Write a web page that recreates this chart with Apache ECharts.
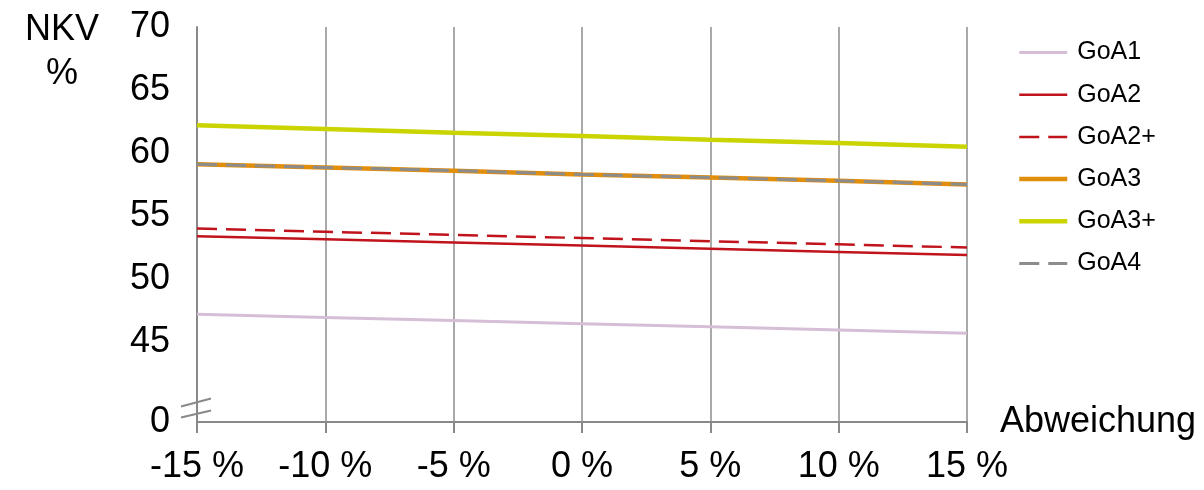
<!DOCTYPE html>
<html><head><meta charset="utf-8">
<script src="https://cdn.jsdelivr.net/npm/echarts@6/dist/echarts.min.js"></script>
<style>html,body{margin:0;padding:0;background:#fff}#c{width:1204px;height:490px}</style>
</head><body><div id="c"></div>
<script>
const categories = ['-15 %','-10 %','-5 %','0 %','5 %','10 %','15 %'];
const goa1  = [47.2, 46.95, 46.7, 46.45, 46.2, 45.95, 45.7];
const goa2  = [53.4, 53.15, 52.9, 52.65, 52.4, 52.15, 51.9];
const goa2p = [54.0, 53.75, 53.5, 53.25, 53.0, 52.75, 52.5];
const goa3  = [59.1, 58.85, 58.6, 58.3, 58.05, 57.8, 57.5];
const goa3p = [62.2, 61.9, 61.6, 61.35, 61.05, 60.8, 60.5];
const goa4  = [59.1, 58.85, 58.6, 58.3, 58.05, 57.8, 57.5];
const yBreakMin = 38.65;
const yTicks = [yBreakMin, 45, 50, 55, 60, 65, 70];

const font = 'Liberation Sans, Arial, sans-serif';
const chart = echarts.init(document.getElementById('c'), null, {renderer:'canvas'});
const styles = {
  'GoA1':  {color:'#d6bfd6', width:3,   type:'solid'},
  'GoA2':  {color:'#c0131b', width:2.5, type:'solid'},
  'GoA2+': {color:'#c0131b', width:2.5, type:[20,9]},
  'GoA3':  {color:'#e08e0b', width:4.5, type:'solid'},
  'GoA3+': {color:'#c9d400', width:4.5, type:'solid'},
  'GoA4':  {color:'#8c8c8c', width:3,   type:[20,9]}
};
function ser(name, data, z){
  const s = styles[name];
  return {name, type:'line', data, symbol:'none', z:z,
    lineStyle:{color:s.color, width:s.width, type:s.type}, itemStyle:{color:s.color}};
}
const legendNames = ['GoA1','GoA2','GoA2+','GoA3','GoA3+','GoA4'];
chart.setOption({
  animation:false,
  grid:{left:197, right:237, top:27, bottom:68},
  xAxis:{type:'category', data:categories, boundaryGap:false,
    name:'Abweichung', nameLocation:'end', nameGap:33,
    nameTextStyle:{fontFamily:font, fontSize:36, color:'#000', padding:[8,0,0,0]},
    axisLine:{lineStyle:{color:'#898989', width:2}},
    axisTick:{show:true, length:11, lineStyle:{color:'#898989', width:2}},
    axisLabel:{fontFamily:font, fontSize:36, color:'#000', margin:27},
    splitLine:{show:true, lineStyle:{color:'#8c8c8c', width:1.5}}},
  yAxis:{type:'value', min:yBreakMin, max:70,
    axisLine:{show:true, lineStyle:{color:'#898989', width:2}},
    axisTick:{show:false},
    splitLine:{show:false},
    axisLabel:{fontFamily:font, fontSize:36, color:'#000', margin:27,
      customValues:yTicks,
      formatter:v => v < 40 ? '0' : String(Math.round(v))}},
  legend:{orient:'vertical', left:1012, top:35, itemWidth:48, itemHeight:14, itemGap:17.2,
    itemStyle:{opacity:0},
    textStyle:{fontFamily:font, fontSize:25, color:'#000', lineHeight:24, padding:[0,0,0,5]},
    data:legendNames.map(n => ({name:n, lineStyle:{color:styles[n].color, width:styles[n].width, type:styles[n].type}}))},
  series:[
    ser('GoA1', goa1, 2),
    ser('GoA2', goa2, 3),
    ser('GoA2+', goa2p, 3),
    ser('GoA3', goa3, 4),
    ser('GoA3+', goa3p, 4),
    ser('GoA4', goa4, 5)
  ],
  graphic:[
    {type:'text', left:25, top:12, style:{text:'NKV', font:'36px '+font, fill:'#000'}},
    {type:'text', left:46, top:56, style:{text:'%', font:'36px '+font, fill:'#000'}},
    {type:'line', shape:{x1:181, y1:406.5, x2:211, y2:398.5}, style:{stroke:'#898989', lineWidth:2}, z:10},
    {type:'line', shape:{x1:181, y1:417.5, x2:211, y2:410.5}, style:{stroke:'#898989', lineWidth:2}, z:10}
  ]
});
</script></body></html>
